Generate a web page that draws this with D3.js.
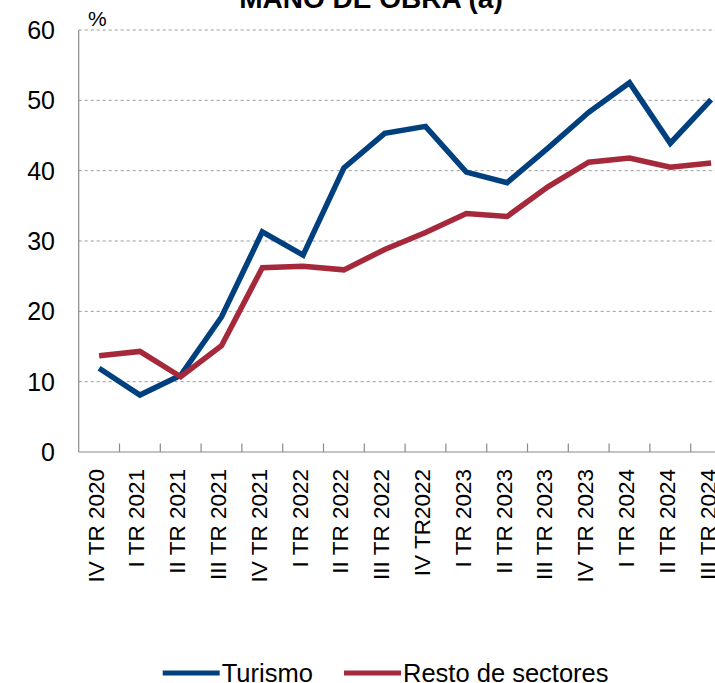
<!DOCTYPE html>
<html>
<head>
  <meta charset="utf-8">
  <title>Mano de obra (a)</title>
  <script src="https://cdn.jsdelivr.net/npm/d3@7"></script>
  <style>
    body {
      margin: 0;
      overflow: hidden;
      background: #fff;
      font-family: "Liberation Sans", Arial, Helvetica, sans-serif;
    }
  </style>
</head>
<body>
  <svg id="chart" width="715" height="683"></svg>
  <script>
    const categories = ['IV TR 2020', 'I TR 2021', 'II TR 2021', 'III TR 2021', 'IV TR 2021',
      'I TR 2022', 'II TR 2022', 'III TR 2022', 'IV TR2022', 'I TR 2023', 'II TR 2023',
      'III TR 2023', 'IV TR 2023', 'I TR 2024', 'II TR 2024', 'III TR 2024'];
    const turismo = [11.9, 8.1, 10.9, 19.2, 31.3, 28.0, 40.4, 45.3, 46.3, 39.8, 38.3, 43.2, 48.3, 52.5, 43.9, 50.1];
    const resto = [13.7, 14.3, 10.7, 15.1, 26.2, 26.4, 25.9, 28.8, 31.2, 33.9, 33.5, 37.7, 41.2, 41.8, 40.5, 41.1];
    const yTicks = [0, 10, 20, 30, 40, 50, 60];
    const seriesNames = ['Turismo', 'Resto de sectores'];
    const colors = ['#00407f', '#a5293a'];

    const svg = d3.select('#chart');
    const plotLeft = 78.7, plotTop = 30, plotBottom = 452, band = 40.8;

    const x = d3.scaleBand()
      .domain(categories)
      .range([plotLeft, plotLeft + band * categories.length])
      .paddingInner(0).paddingOuter(0);

    const y = d3.scaleLinear()
      .domain([0, 60])
      .range([plotBottom, plotTop]);

    // title, cut at the top edge like the source
    svg.append('text')
      .attr('x', 371).attr('y', 8)
      .attr('text-anchor', 'middle')
      .style('font-weight', 'bold')
      .style('font-size', '28px')
      .text('MANO DE OBRA (a)');

    // dashed grid
    svg.append('g')
      .selectAll('line')
      .data(yTicks.filter(d => d > 0))
      .enter()
      .append('line')
      .attr('x1', plotLeft).attr('x2', 715)
      .attr('y1', d => y(d)).attr('y2', d => y(d))
      .attr('stroke', '#9a9a9a')
      .attr('stroke-width', 1)
      .attr('stroke-dasharray', '3,3');

    // y labels
    svg.append('g')
      .selectAll('text')
      .data(yTicks)
      .enter()
      .append('text')
      .attr('x', 55)
      .attr('y', d => y(d))
      .attr('dy', '0.36em')
      .attr('text-anchor', 'end')
      .style('font-size', '25px')
      .text(d => d);

    svg.append('text')
      .attr('x', 88).attr('y', 26)
      .style('font-size', '21px')
      .text('%');

    // axes lines
    svg.append('line')
      .attr('x1', plotLeft).attr('x2', plotLeft)
      .attr('y1', plotTop).attr('y2', plotBottom)
      .attr('stroke', '#8a8a8a').attr('stroke-width', 1.2);
    svg.append('line')
      .attr('x1', plotLeft).attr('x2', 715)
      .attr('y1', plotBottom).attr('y2', plotBottom)
      .attr('stroke', '#8a8a8a').attr('stroke-width', 1.2);

    // ticks between categories, pointing up
    svg.append('g')
      .selectAll('line')
      .data(categories.slice(1))
      .enter()
      .append('line')
      .attr('x1', d => x(d)).attr('x2', d => x(d))
      .attr('y1', plotBottom).attr('y2', plotBottom - 8.5)
      .attr('stroke', '#8a8a8a').attr('stroke-width', 1.2);

    // rotated category labels
    svg.append('g')
      .selectAll('text')
      .data(categories)
      .enter()
      .append('text')
      .attr('transform', d => 'translate(' + (x(d) + x.bandwidth() / 2 + 4.5) + ',469) rotate(-90)')
      .attr('text-anchor', 'end')
      .style('font-size', '22.5px')
      .text(d => d);

    // lines
    const line = d3.line()
      .x((d, i) => x(categories[i]) + x.bandwidth() / 2)
      .y(d => y(d));

    [turismo, resto].forEach((s, k) => {
      svg.append('path')
        .datum(s)
        .attr('fill', 'none')
        .attr('stroke', colors[k])
        .attr('stroke-width', 5.5)
        .attr('stroke-linejoin', 'miter')
        .attr('d', line);
    });

    // legend
    const legendX = [162.7, 344];
    const legend = svg.append('g')
      .selectAll('g')
      .data(seriesNames)
      .enter()
      .append('g')
      .attr('transform', (d, i) => 'translate(' + legendX[i] + ',673)');
    legend.append('line')
      .attr('x1', 0).attr('x2', 57)
      .attr('stroke', (d, i) => colors[i])
      .attr('stroke-width', 5);
    legend.append('text')
      .attr('x', 59).attr('y', 8.5)
      .style('font-size', '25.5px')
      .text(d => d);
  </script>
</body>
</html>
